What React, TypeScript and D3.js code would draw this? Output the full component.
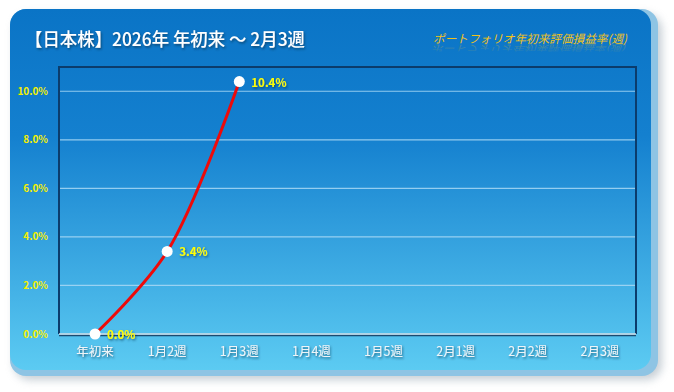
import * as d3 from 'd3';
import React, { useEffect, useRef } from 'react';

// weekly portfolio return (YTD)
const categories = ['年初来', '1月2週', '1月3週', '1月4週', '1月5週', '2月1週', '2月2週', '2月3週'];
const returns = [0.0, 0.034, 0.104];
const yTicks = [0, 0.02, 0.04, 0.06, 0.08, 0.10];

const title = '【日本株】2026年 年初来 ～ 2月3週';
const subtitle = 'ポートフォリオ年初来評価損益率(週)';

const App = () => {
    const svgRef = useRef<SVGSVGElement>(null);

    useEffect(() => {
        const svg = d3.select(svgRef.current);
        svg.selectAll('*').remove();

        const width = 674;
        const height = 392;
        const plot = { left: 59, right: 636, top: 67, bottom: 334 };
        const font = '"Noto Sans CJK JP", "Noto Sans", sans-serif';

        const defs = svg.append('defs');
        const bg = defs.append('linearGradient').attr('id', 'bg')
            .attr('x1', 0).attr('y1', 0).attr('x2', 0).attr('y2', 1);
        bg.append('stop').attr('offset', '0%').attr('stop-color', '#0a74c6');
        bg.append('stop').attr('offset', '35%').attr('stop-color', '#1480cf');
        bg.append('stop').attr('offset', '100%').attr('stop-color', '#5ccbf2');

        const shadow = defs.append('filter').attr('id', 'shadow')
            .attr('x', '-10%').attr('y', '-10%').attr('width', '120%').attr('height', '120%');
        shadow.append('feGaussianBlur').attr('stdDeviation', 4);

        const txtShadow = defs.append('filter').attr('id', 'txtShadow')
            .attr('x', '-20%').attr('y', '-40%').attr('width', '140%').attr('height', '180%');
        txtShadow.append('feDropShadow').attr('dx', 1).attr('dy', 1.5)
            .attr('stdDeviation', 0.8).attr('flood-color', '#0a3050').attr('flood-opacity', 0.7);

        const refl = defs.append('linearGradient').attr('id', 'refl')
            .attr('x1', 0).attr('y1', 0).attr('x2', 0).attr('y2', 1);
        refl.append('stop').attr('offset', '0%').attr('stop-color', '#f0c020').attr('stop-opacity', 0);
        refl.append('stop').attr('offset', '100%').attr('stop-color', '#f0c020').attr('stop-opacity', 0.35);

        svg.attr('width', width).attr('height', height);

        // outer panel with shadow and bevel
        svg.append('rect').attr('x', 14).attr('y', 14).attr('width', 648).attr('height', 366)
            .attr('rx', 16).attr('fill', '#9aa8b4').attr('opacity', 0.55).attr('filter', 'url(#shadow)');
        svg.append('rect').attr('x', 10).attr('y', 9).attr('width', 648).attr('height', 367)
            .attr('rx', 16).attr('fill', '#8ec4e4');
        svg.append('rect').attr('x', 10).attr('y', 9).attr('width', 641).attr('height', 361)
            .attr('rx', 16).attr('fill', 'url(#bg)');

        // titles
        svg.append('text')
            .attr('x', 25).attr('y', 46)
            .attr('fill', '#ffffff')
            .attr('filter', 'url(#txtShadow)')
            .attr('textLength', 280)
            .attr('lengthAdjust', 'spacingAndGlyphs')
            .style('font-family', font)
            .style('font-size', '18px')
            .style('font-weight', 500)
            .text(title);

        svg.append('text')
            .attr('x', 433).attr('y', 43)
            .attr('fill', '#f2c21a')
            .attr('textLength', 194)
            .attr('lengthAdjust', 'spacingAndGlyphs')
            .style('font-family', font)
            .style('font-size', '11.5px')
            .attr('transform', 'translate(433,43) skewX(-14) translate(-433,-43)')
            .text(subtitle);
        // faint reflection under the subtitle
        svg.append('text')
            .attr('x', 433).attr('y', 43)
            .attr('fill', 'url(#refl)')
            .attr('textLength', 194)
            .attr('lengthAdjust', 'spacingAndGlyphs')
            .style('font-family', font)
            .style('font-size', '11.5px')
            .attr('transform', 'translate(433,45) scale(1,-0.7) skewX(14) translate(-433,-43)')
            .text(subtitle);

        const x = d3.scaleBand()
            .domain(categories)
            .range([plot.left, plot.right]);

        const y = d3.scaleLinear()
            .domain([0, 0.11])
            .range([plot.bottom, plot.top]);

        const g = svg.append('g');

        // gridlines
        g.selectAll('line.grid')
            .data(yTicks.filter(d => d > 0))
            .join('line')
            .attr('class', 'grid')
            .attr('x1', plot.left).attr('x2', plot.right)
            .attr('y1', d => y(d)).attr('y2', d => y(d))
            .attr('stroke', '#a8d8f4')
            .attr('stroke-opacity', 0.85)
            .attr('stroke-width', 1.2);

        // plot frame
        g.append('path')
            .attr('d', `M${plot.left},${plot.bottom}V${plot.top}H${plot.right}V${plot.bottom}`)
            .attr('fill', 'none')
            .attr('stroke', '#0b3c6c')
            .attr('stroke-width', 2);
        g.append('line')
            .attr('x1', plot.left).attr('x2', plot.right)
            .attr('y1', plot.bottom + 1.5).attr('y2', plot.bottom + 1.5)
            .attr('stroke', '#1a4a70').attr('stroke-width', 1.5);
        g.append('line')
            .attr('x1', plot.left).attr('x2', plot.right)
            .attr('y1', plot.bottom).attr('y2', plot.bottom)
            .attr('stroke', '#d0dce6').attr('stroke-width', 1.5);

        // y tick labels
        g.selectAll('text.ytick')
            .data(yTicks)
            .join('text')
            .attr('class', 'ytick')
            .attr('x', 48)
            .attr('y', d => y(d))
            .attr('dy', '0.35em')
            .attr('text-anchor', 'end')
            .attr('fill', '#f4f000')
            .style('font-family', font)
            .style('font-size', '10px')
            .style('font-weight', 'bold')
            .text(d => d3.format('.1%')(d));

        // x tick labels
        g.selectAll('text.xtick')
            .data(categories)
            .join('text')
            .attr('class', 'xtick')
            .attr('x', d => (x(d) ?? 0) + x.bandwidth() / 2)
            .attr('y', 352)
            .attr('dy', '0.35em')
            .attr('text-anchor', 'middle')
            .attr('fill', '#eef4f8')
            .attr('filter', 'url(#txtShadow)')
            .style('font-family', font)
            .style('font-size', '12.5px')
            .text(d => d);

        const pts = returns.map((v, i) => [(x(categories[i]) ?? 0) + x.bandwidth() / 2, y(v)] as [number, number]);

        const line = d3.line().curve(d3.curveCatmullRom.alpha(0.5));
        g.append('path')
            .attr('d', line(pts))
            .attr('fill', 'none')
            .attr('stroke', '#ee0a0a')
            .attr('stroke-width', 3);

        g.selectAll('circle.pt')
            .data(pts)
            .join('circle')
            .attr('class', 'pt')
            .attr('cx', d => d[0]).attr('cy', d => d[1])
            .attr('r', 5.5)
            .attr('fill', '#ffffff');

        g.selectAll('text.val')
            .data(returns)
            .join('text')
            .attr('class', 'val')
            .attr('x', (d, i) => pts[i][0] + 12)
            .attr('y', (d, i) => pts[i][1] + 1)
            .attr('dy', '0.35em')
            .attr('fill', '#ffff00')
            .attr('filter', 'url(#txtShadow)')
            .style('font-family', font)
            .style('font-size', '11.5px')
            .style('font-weight', 'bold')
            .text(d => d3.format('.1%')(d));
    }, []);

    return (
        <svg ref={svgRef} style={{ position: 'absolute', left: 0, top: 0 }}></svg>
    );
};

export default App;
